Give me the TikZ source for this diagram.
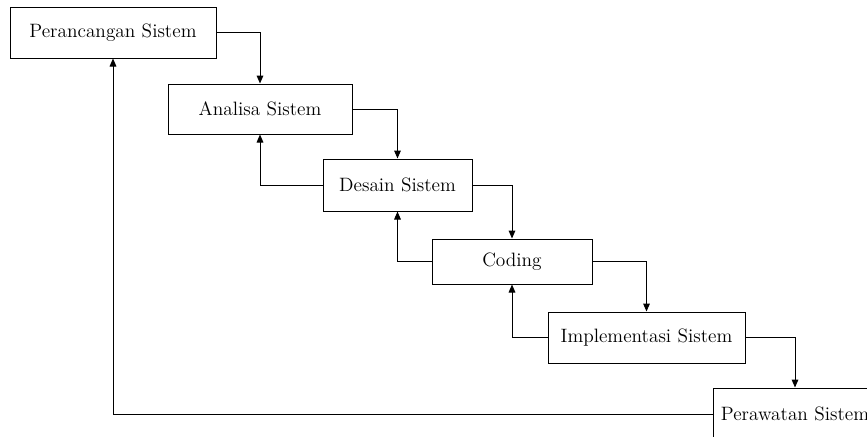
\documentclass[tikz,border=0pt]{standalone}
\usetikzlibrary{arrows.meta}

\tikzset{every picture/.style={line width=0.75pt}}
\tikzset{
  stage/.style={draw, fill=white, inner sep=0pt, font=\fontsize{14.5}{17}\selectfont},
  flow/.style={-{Triangle[length=6pt,width=5pt]}}
}

\begin{document}
\begin{tikzpicture}[x=0.75pt,y=0.75pt,yscale=-1,xscale=1]
\clip (0,0) rectangle (867,436);
\useasboundingbox (0,0) rectangle (867,436);

% Stages
\node [stage, minimum width=206*0.75pt, minimum height=51*0.75pt] (perancangan) at (113,32.5) {Perancangan Sistem};
\node [stage, minimum width=184*0.75pt, minimum height=50*0.75pt] (analisa) at (260,109) {Analisa Sistem};
\node [stage, minimum width=149*0.75pt, minimum height=52*0.75pt] (desain) at (397.5,185) {Desain Sistem};
\node [stage, minimum width=160*0.75pt, minimum height=45*0.75pt] (coding) at (512,261.5) {Coding};
\node [stage, minimum width=197*0.75pt, minimum height=51*0.75pt] (implementasi) at (646.5,337.5) {Implementasi Sistem};
\node [stage, minimum width=164*0.75pt, minimum height=52*0.75pt] (perawatan) at (795,414) {Perawatan Sistem};

% Forward
\draw [flow] (perancangan.east) -| (analisa.north);
\draw [flow] (analisa.east) -| (desain.north);
\draw [flow] (desain.east) -| (coding.north);
\draw [flow] (coding.east) -| (implementasi.north);
\draw [flow] (implementasi.east) -| (perawatan.north);

% Feedback
\draw [flow] (desain.west) -| (analisa.south);
\draw [flow] (coding.west) -| (desain.south);
\draw [flow] (implementasi.west) -| (coding.south);
\draw [flow] (perawatan.west) -| (perancangan.south);

\end{tikzpicture}
\end{document}
